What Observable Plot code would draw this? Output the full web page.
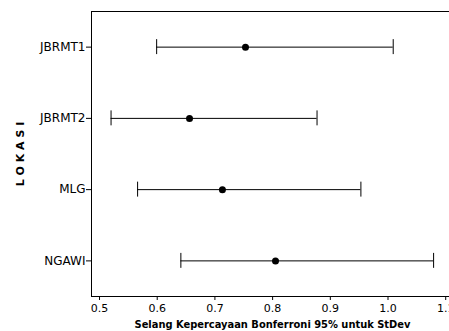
<!DOCTYPE html>
<html><head><meta charset="utf-8">
<script src="https://cdn.jsdelivr.net/npm/d3@7"></script>
<script src="https://cdn.jsdelivr.net/npm/@observablehq/plot@0.6"></script>
<style>
body{margin:0;overflow:hidden;background:#fff}
[aria-label^="y-axis"] text{font-size:12px}
[aria-label^="x-axis"] text{font-size:11px}
</style>
</head><body><div id="chart"></div>
<script>
const lokasi = ["JBRMT1", "JBRMT2", "MLG", "NGAWI"];
const lower = [0.599, 0.520, 0.566, 0.641];
const estimate = [0.753, 0.656, 0.713, 0.805];
const upper = [1.009, 0.877, 0.953, 1.079];
const xTicks = [0.5, 0.6, 0.7, 0.8, 0.9, 1.0, 1.1];
const xLabel = "Selang Kepercayaan Bonferroni 95% untuk StDev";
const yLabel = "L O K A S I";

const data = lokasi.map((d, i) => ({lokasi: d, i, lower: lower[i], estimate: estimate[i], upper: upper[i]}));
const cap = 0.105;
const chart = Plot.plot({
  width: 460, height: 331,
  marginLeft: 91, marginRight: 7, marginTop: 11, marginBottom: 35,
  style: {fontFamily: "DejaVu Sans", fontSize: "11px", color: "#000", background: "#fff", maxWidth: "none", overflow: "visible"},
  x: {domain: [0.4861, 1.1135], ticks: xTicks, tickFormat: d3.format(".1f"), tickSize: 4, tickPadding: 4, label: null},
  y: {domain: [3.5, -0.5], ticks: [0, 1, 2, 3], tickFormat: i => lokasi[i], tickSize: 5, tickPadding: 1, label: null},
  marks: [
    Plot.frame({stroke: "#000"}),
    Plot.ruleY(data, {y: "i", x1: "lower", x2: "upper", stroke: "#000"}),
    Plot.ruleX(data, {x: "lower", y1: d => d.i - cap, y2: d => d.i + cap, stroke: "#000"}),
    Plot.ruleX(data, {x: "upper", y1: d => d.i - cap, y2: d => d.i + cap, stroke: "#000"}),
    Plot.dot(data, {x: "estimate", y: "i", r: 3.5, fill: "#000"}),
    Plot.text([xLabel], {frameAnchor: "bottom", dy: 28, lineAnchor: "middle", textAnchor: "middle", text: d => d, fontWeight: "bold", fontFamily: "DejaVu Sans Condensed, DejaVu Sans", fontSize: 11}),
    Plot.text([yLabel], {frameAnchor: "left", dx: -71, rotate: -90, textAnchor: "middle", lineAnchor: "middle", text: d => d, fontWeight: "bold", fontSize: 11})
  ]
});
document.getElementById("chart").append(chart);
</script>
</body></html>
